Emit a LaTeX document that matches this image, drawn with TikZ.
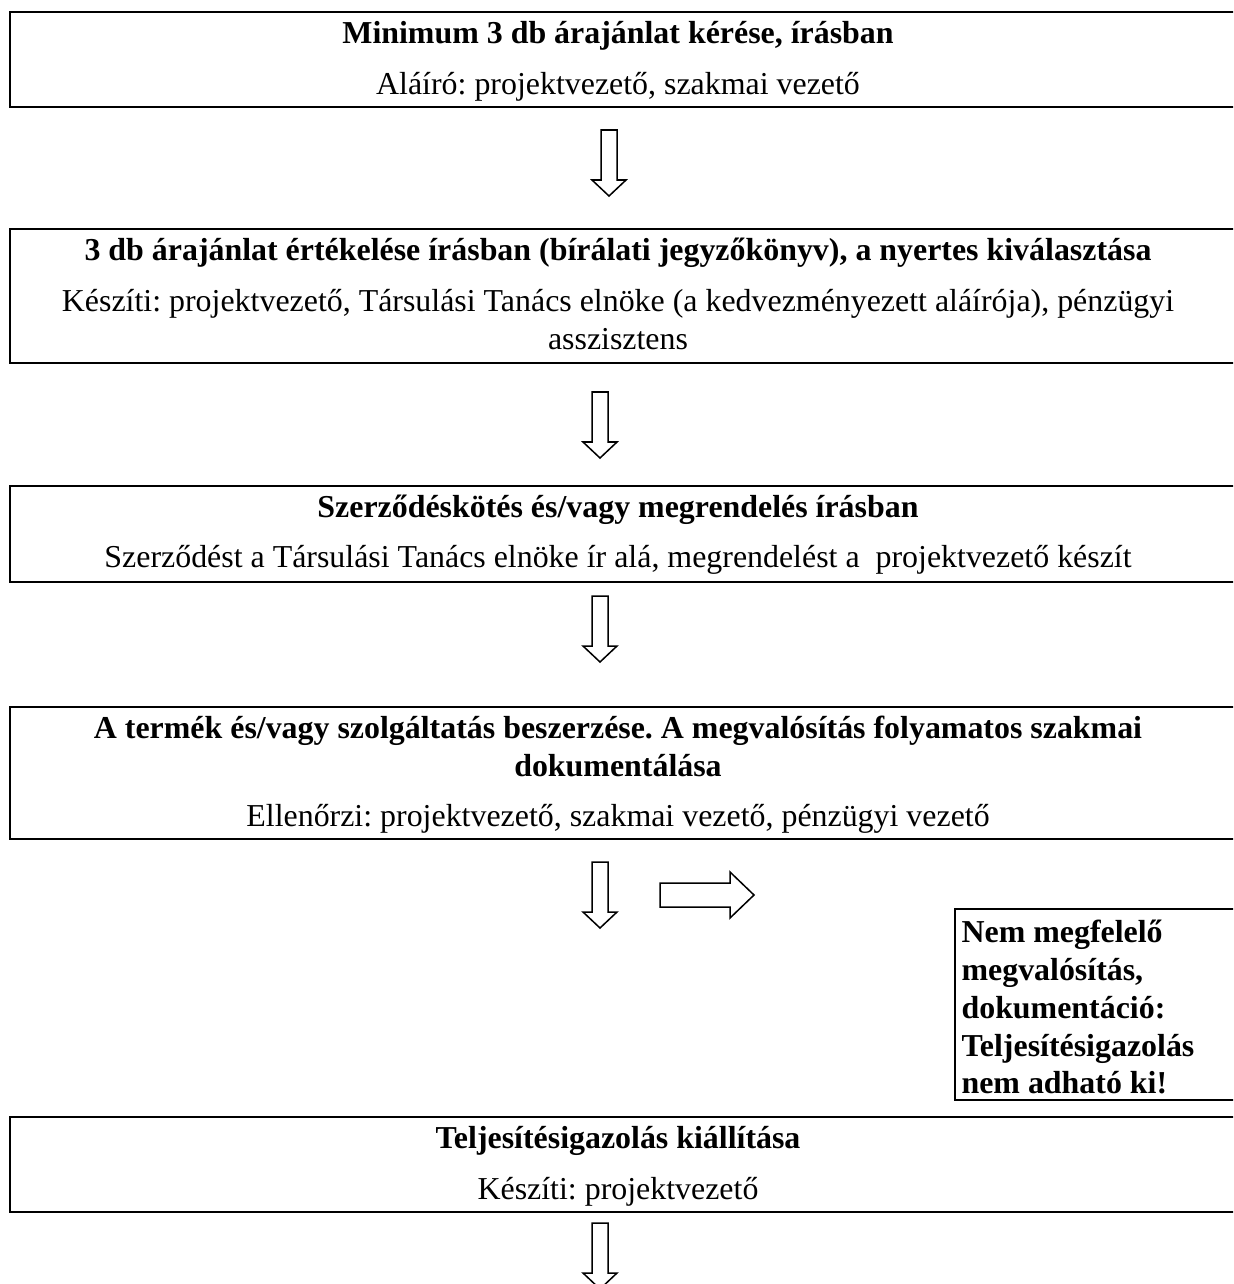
\documentclass[tikz,border=0pt]{standalone}
\usepackage{fontspec}
\setmainfont{Liberation Serif}
\frenchspacing

\newcommand{\boxfont}{\fontsize{11.6}{13.3}\selectfont}

\tikzset{
  box/.style={line width=1pt},
  blockarrow/.style={line width=0.55pt},
  title/.style={anchor=base, inner sep=0pt, font=\boxfont\bfseries},
  sub/.style={anchor=base, inner sep=0pt, font=\boxfont},
  note/.style={anchor=base west, inner sep=0pt, font=\boxfont\bfseries},
  downarr/.pic={\draw[blockarrow] (-8,0) -- (8,0) -- (8,50) -- (17,50) -- (0,66) -- (-17,50) -- (-8,50) -- cycle;},
  rightarr/.pic={\draw[blockarrow] (0,-12) -- (70,-12) -- (70,-23) -- (94,0) -- (70,23) -- (70,12) -- (0,12) -- cycle;}
}

\begin{document}
\begin{tikzpicture}[x=0.3636pt,y=-0.3636pt]
    \useasboundingbox (0,0) rectangle (1233,1284);
    \clip (0,0) rectangle (1233,1284);

    % boxes
    \draw[box] (10,12) rectangle (1245,107);
    \draw[box] (10,229) rectangle (1245,363);
    \draw[box] (10,486) rectangle (1245,582);
    \draw[box] (10,707) rectangle (1245,839);
    \draw[box] (955,909) rectangle (1245,1100);
    \draw[box] (10,1117) rectangle (1245,1212);

    \node[title] (t1) at (618,43) {Minimum 3 db árajánlat kérése, írásban};
    \node[sub] (s1) at (618,94) {Aláíró: projektvezető, szakmai vezető};

    \node[title] (t2) at (618,260) {3 db árajánlat értékelése írásban (bírálati jegyzőkönyv), a nyertes kiválasztása};
    \node[sub] (s2a) at (618,311) {Készíti: projektvezető, Társulási Tanács elnöke (a kedvezményezett aláírója), pénzügyi};
    \node[sub] (s2b) at (618,349) {asszisztens};

    \node[title] (t3) at (618,517) {Szerződéskötés és/vagy megrendelés írásban};
    \node[sub] (s3) at (618,567) {Szerződést a Társulási Tanács elnöke ír alá, megrendelést a\ \ projektvezető készít};

    \node[title] (t4a) at (618,738) {A termék és/vagy szolgáltatás beszerzése. A megvalósítás folyamatos szakmai};
    \node[title] (t4b) at (618,776) {dokumentálása};
    \node[sub] (s4) at (618,826) {Ellenőrzi: projektvezető, szakmai vezető, pénzügyi vezető};

    \node[note] (n1) at (961,942) {Nem megfelelő};
    \node[note] (n2) at (961,980) {megvalósítás,};
    \node[note] (n3) at (961,1018) {dokumentáció:};
    \node[note] (n4) at (961,1056) {Teljesítésigazolás};
    \node[note] (n5) at (961,1093) {nem adható ki!};

    \node[title] (t5) at (618,1148) {Teljesítésigazolás kiállítása};
    \node[sub] (s5) at (618,1199) {Készíti: projektvezető};

    % arrows
    \pic at (609,130) {downarr};
    \pic at (600,392) {downarr};
    \pic at (600,596) {downarr};
    \pic at (600,862) {downarr};
    \pic at (660,895) {rightarr};
    \pic at (600,1223) {downarr};
\end{tikzpicture}
\end{document}
